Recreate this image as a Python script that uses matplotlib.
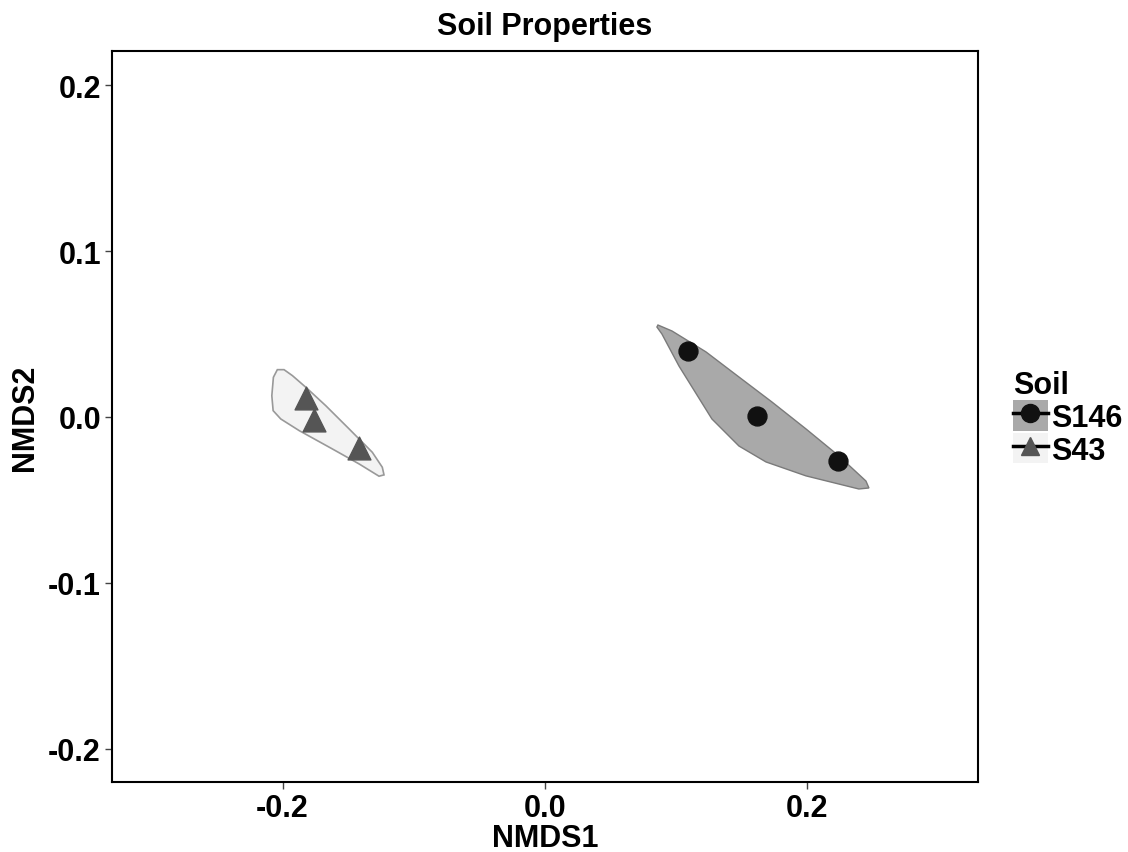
import matplotlib
matplotlib.use("Agg")
import matplotlib.pyplot as plt
from matplotlib.patches import Patch, Polygon
from matplotlib.lines import Line2D
from matplotlib.legend_handler import HandlerTuple

plt.rcParams['font.family'] = ['Liberation Sans', 'DejaVu Sans']
plt.rcParams['font.weight'] = 'bold'

# NMDS scores
s146_x = [0.109, 0.1615, 0.2232]
s146_y = [0.040, 0.0006, -0.0265]
s43_x = [-0.1819, -0.1758, -0.1417]
s43_y = [0.0113, -0.0016, -0.0189]

# group outlines
s146_hull_x = [0.0861, 0.0968, 0.1227, 0.1478, 0.1730, 0.1989, 0.2240, 0.2446, 0.2469,
               0.2392, 0.1989, 0.1684, 0.1478, 0.1272, 0.1021, 0.0891, 0.0853]
s146_hull_y = [0.0554, 0.0518, 0.0392, 0.0241, 0.0090, -0.0072, -0.0235, -0.0386, -0.0428,
               -0.0434, -0.0355, -0.0271, -0.0175, -0.0012, 0.0307, 0.0500, 0.0542]
s43_hull_x = [-0.2040, -0.1989, -0.1925, -0.1823, -0.1671, -0.1493, -0.1316, -0.1240, -0.1227,
              -0.1265, -0.1417, -0.1620, -0.1874, -0.2014, -0.2072, -0.2082, -0.2070]
s43_hull_y = [0.0285, 0.0285, 0.0249, 0.0179, 0.0068, -0.0072, -0.0213, -0.0303, -0.0349,
              -0.0357, -0.0283, -0.0193, -0.0082, -0.0012, 0.0038, 0.0128, 0.0239]

ticks = [-0.2, 0.0, 0.2]
yticks = [-0.2, -0.1, 0.0, 0.1, 0.2]

fig = plt.figure(figsize=(11.28, 8.53), dpi=100)
ax = fig.add_axes([0.0993, 0.082, 0.7677, 0.857])

ax.add_patch(Polygon(list(zip(s146_hull_x, s146_hull_y)), closed=True,
                     facecolor='#a9a9a9', edgecolor='#7a7a7a', lw=1.0, zorder=1))
ax.add_patch(Polygon(list(zip(s43_hull_x, s43_hull_y)), closed=True,
                     facecolor='#f3f3f3', edgecolor='#999999', lw=1.2, zorder=1))

ax.scatter(s146_x, s146_y, s=185, marker='o', color='#111111', zorder=3)
ax.scatter(s43_x, s43_y, s=270, marker='^', color='#555555', zorder=3)

ax.set_xlim(-0.33, 0.33)
ax.set_ylim(-0.22, 0.2205)
ax.set_xticks(ticks)
ax.set_xticklabels(['-0.2', '0.0', '0.2'])
ax.set_yticks(yticks)
ax.set_yticklabels(['-0.2', '-0.1', '0.0', '0.1', '0.2'])
ax.tick_params(labelsize=22, length=5, width=1, color='#444444', pad=3)
for lab in ax.get_xticklabels() + ax.get_yticklabels():
    lab.set_fontweight('bold')
for sp in ax.spines.values():
    sp.set_linewidth(1.5)

ax.set_xlabel('NMDS1', fontsize=22, fontweight='bold', labelpad=0)
ax.set_ylabel('NMDS2', fontsize=22, fontweight='bold', labelpad=6)
ax.set_title('Soil Properties', fontsize=22, fontweight='bold', pad=12)

h1 = (Patch(facecolor='#a9a9a9', edgecolor='none'),
      Line2D([], [], color='black', lw=2.5, marker='o', markersize=13, markerfacecolor='#111111',
             markeredgecolor='#111111'))
h2 = (Patch(facecolor='#f3f3f3', edgecolor='none'),
      Line2D([], [], color='black', lw=2.5, marker='^', markersize=13, markerfacecolor='#555555',
             markeredgecolor='#555555'))
leg = ax.legend([h1, h2], ['S146', 'S43'], handler_map={tuple: HandlerTuple(ndivide=1, pad=0)},
                title='Soil', loc='center left', bbox_to_anchor=(1.040, 0.498), frameon=False,
                fontsize=22, title_fontsize=22, handlelength=1.15, handleheight=1.15,
                handletextpad=0.1, labelspacing=0.0, borderpad=0, borderaxespad=0)
leg.get_title().set_fontweight('bold')
leg._legend_box.align = 'left'
for t in leg.get_texts():
    t.set_fontweight('bold')

fig.savefig('out.png', dpi=100)
